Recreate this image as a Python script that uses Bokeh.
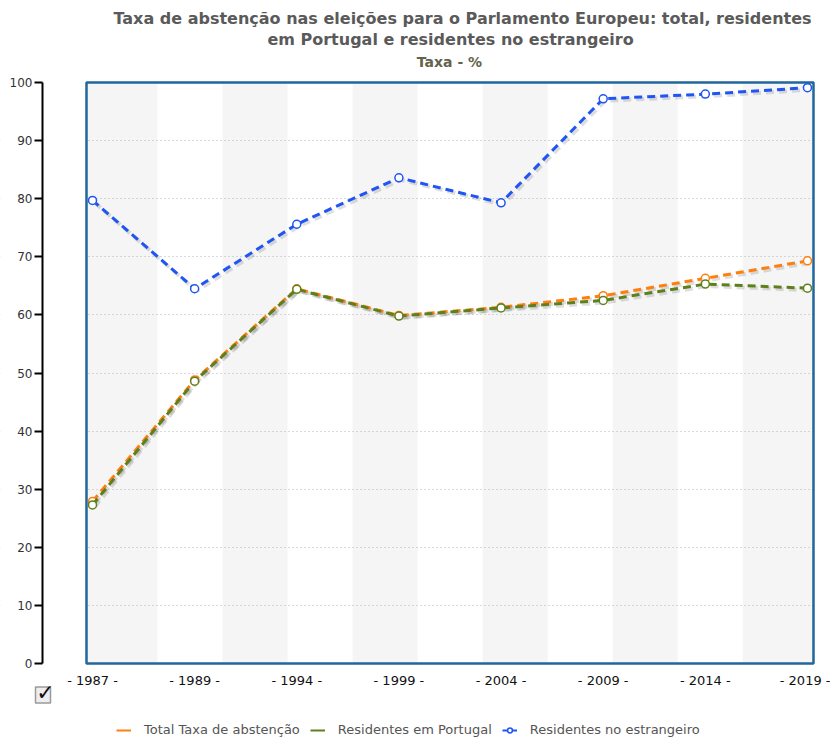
from bokeh.plotting import figure
from bokeh.models import FixedTicker, Label, Legend, LegendItem, Range1d
from bokeh.embed import file_html
from bokeh.resources import INLINE
import numpy as np

# ---- data ----
years = ["1987", "1989", "1994", "1999", "2004", "2009", "2014", "2019"]
total = [27.9, 48.8, 64.5, 59.9, 61.3, 63.3, 66.3, 69.3]
residentes_pt = [27.3, 48.6, 64.4, 59.8, 61.2, 62.5, 65.3, 64.6]
residentes_est = [79.7, 64.5, 75.6, 83.6, 79.3, 97.2, 98.0, 99.1]
y_ticks = [0, 10, 20, 30, 40, 50, 60, 70, 80, 90, 100]
series_names = ["Total Taxa de abstenção", "Residentes em Portugal", "Residentes no estrangeiro"]
title_lines = ["Taxa de abstenção nas eleições para o Parlamento Europeu: total, residentes",
               "em Portugal e residentes no estrangeiro"]
subtitle = "Taxa - %"

# ---- styles ----
ORANGE = "#ff7f0e"
GREEN = "#5e801c"
BLUE = "#1f55f5"
FRAME = "#21669c"
BAND = "#f5f5f5"
FONT = "DejaVu Sans"

W, H = 830, 738
PX_X = 102.14          # pixels per category step
PX_Y = 5.81            # pixels per percentage point
X0_PX, Y0_PX = 92, 663  # page position of the first category / of value 0

def dx(px):  # page x -> data x
    return (px - X0_PX) / PX_X

def dy(py):  # page y -> data y
    return (Y0_PX - py) / PX_Y

idx = np.arange(len(years))
BOX_PAD = 0.0588
BAND_W = 0.6366
box_right = len(years) - 1 + BOX_PAD

p = figure(width=W, height=H,
           x_range=Range1d(dx(0), dx(W)), y_range=Range1d(dy(H), dy(0)),
           output_backend="svg", toolbar_location=None, min_border=0)
p.title.visible = False
p.outline_line_color = None
p.background_fill_color = "white"
p.border_fill_color = "white"

# alternating background bands
lefts = np.arange(0, box_right, 2 * BAND_W)
rights = np.minimum(lefts + BAND_W, box_right)
lefts[0] = -BOX_PAD
rights[-1] = box_right
p.quad(left=lefts, right=rights, bottom=0, top=100, fill_color=BAND, line_color=None, level="image")

# grid
p.xgrid.visible = False
p.ygrid.ticker = FixedTicker(ticks=y_ticks[1:-1])
p.ygrid.grid_line_color = "#b5b5b5"
p.ygrid.grid_line_dash = "1 3"
p.ygrid.grid_line_width = 1

# white covers so the grid stays inside the box
p.quad(left=[dx(0), box_right], right=[-BOX_PAD, dx(W)], bottom=dy(H), top=dy(0),
       fill_color="white", line_color=None)

# box around the plot area
p.quad(left=-BOX_PAD, right=box_right, bottom=0, top=100, fill_color=None, line_color=FRAME, line_width=2.5)

# series (with a soft drop shadow)
sh_x = 2 / PX_X
sh_y = 2 / PX_Y
for vals, col in [(residentes_est, BLUE), (total, ORANGE), (residentes_pt, GREEN)]:
    v = np.array(vals)
    p.line(idx + sh_x, v - sh_y, line_color="black", line_alpha=0.13, line_width=4, line_dash="8 5")
for vals, col in [(residentes_est, BLUE), (total, ORANGE), (residentes_pt, GREEN)]:
    p.line(idx, vals, line_color=col, line_width=3, line_dash="8 5")
    p.scatter(idx, vals, marker="circle", size=8, fill_color="white", line_color=col, line_width=1.5)

# y axis (detached, left of the box)
yax = p.yaxis[0]
yax.fixed_location = dx(42)
yax.bounds = (0, 100)
yax.ticker = FixedTicker(ticks=y_ticks)
yax.axis_line_color = "black"
yax.axis_line_width = 2
yax.major_tick_line_color = "black"
yax.major_tick_line_width = 2
yax.major_tick_out = 8
yax.major_tick_in = 0
yax.minor_tick_line_color = None
yax.major_label_standoff = 2
yax.major_label_text_font = FONT
yax.major_label_text_font_size = "12px"
yax.major_label_text_color = "#333333"

# x axis
xax = p.xaxis[0]
xax.fixed_location = 0
xax.ticker = FixedTicker(ticks=list(idx))
xax.major_label_overrides = {int(i): f"- {y} -" for i, y in zip(idx, years)}
xax.axis_line_color = None
xax.major_tick_line_color = None
xax.major_tick_out = 0
xax.major_tick_in = 0
xax.minor_tick_line_color = None
xax.major_label_standoff = 9
xax.major_label_text_font = FONT
xax.major_label_text_font_size = "13px"
xax.major_label_text_color = "#111111"

# titles
for t, px, py in zip(title_lines, [462, 450], [18, 39]):
    p.add_layout(Label(x=dx(px), y=dy(py), text=t, text_align="center", text_baseline="middle",
                       text_font=FONT, text_font_size="16px", text_font_style="bold",
                       text_color="#5a5a5a"))
p.add_layout(Label(x=dx(449), y=dy(61), text=subtitle, text_align="center", text_baseline="middle",
                   text_font=FONT, text_font_size="14px", text_font_style="bold",
                   text_color="#62634a"))

# checkbox icon
p.rect(x=dx(42.5), y=dy(694.5), width=15, height=16, width_units="screen", height_units="screen",
       fill_color="#eeeeee", line_color="#9a9a9a", line_width=1.5)
p.add_layout(Label(x=dx(45), y=dy(692), text="\u2713", text_align="center", text_baseline="middle",
                   text_font=FONT, text_font_size="22px", text_font_style="bold", text_color="#111111"))

# legend (legend-only renderers, nothing drawn in the plot)
nan = [np.nan]
r_leg_o = p.line(nan, nan, line_color=ORANGE, line_width=2)
r_leg_g = p.line(nan, nan, line_color=GREEN, line_width=2)
r_leg_b = p.line(nan, nan, line_color=BLUE, line_width=2)
r_leg_bm = p.scatter(nan, nan, marker="circle", size=6, fill_color="white", line_color=BLUE, line_width=1.5)
legend = Legend(items=[LegendItem(label=series_names[0], renderers=[r_leg_o]),
                       LegendItem(label=series_names[1], renderers=[r_leg_g]),
                       LegendItem(label=series_names[2], renderers=[r_leg_b, r_leg_bm])],
                orientation="horizontal", location=(116, 1),
                border_line_color=None, background_fill_alpha=0,
                label_text_font=FONT, label_text_font_size="13px", label_text_color="#555555",
                glyph_width=15, glyph_height=12, label_height=12, label_standoff=13,
                spacing=10, padding=2, margin=0)
p.add_layout(legend, "center")

open("out.html", "w").write(file_html(p, INLINE))
